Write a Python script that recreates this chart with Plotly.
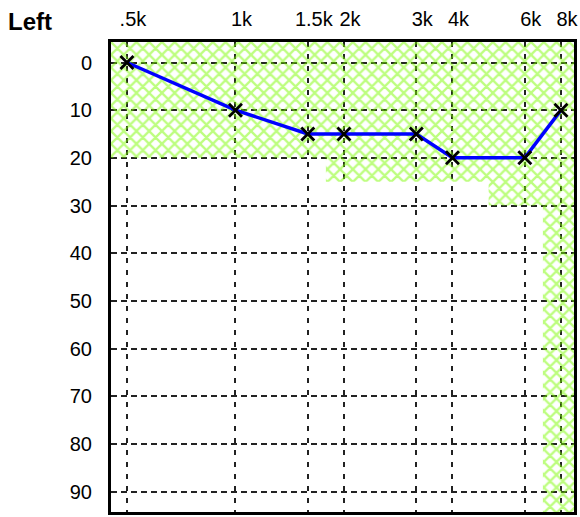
import math
import plotly.graph_objects as go

# ---- data ----
freqs_hz = [500, 1000, 1500, 2000, 3000, 4000, 6000, 8000]
freq_labels = [".5k", "1k", "1.5k", "2k", "3k", "4k", "6k", "8k"]
thresholds_db = [0, 10, 15, 15, 15, 20, 20, 10]
normal_limit_db = [20, 20, 20, 25, 25, 25, 30, 100]
db_ticks = [0, 10, 20, 30, 40, 50, 60, 70, 80, 90]


def aud_pos(f):
    """Audiogram x scale: octaves above 500 Hz; half-octave frequencies at 2/3."""
    r = math.log2(f / 500.0)
    k = math.floor(r + 1e-9)
    return k if r - k < 1e-6 else k + 2.0 / 3.0


pos = [aud_pos(f) for f in freqs_hz]

# step polygon of the shaded normal range
xs = [-1, 5, 5]
ys = [-10, -10, normal_limit_db[-1]]
for i in range(len(pos) - 1, 0, -1):
    mid = (pos[i] + pos[i - 1]) / 2
    xs += [mid, mid]
    ys += [normal_limit_db[i], normal_limit_db[i - 1]]
xs += [-1, -1]
ys += [normal_limit_db[0], -10]

fig = go.Figure()
fig.add_trace(go.Scatter(
    x=xs, y=ys, mode="lines", fill="toself",
    line=dict(width=0, color="rgba(0,0,0,0)"),
    fillcolor="rgba(0,0,0,0)",
    fillpattern=dict(shape="x", fgcolor="#7CFC00", bgcolor="rgba(0,0,0,0)",
                     size=9, solidity=0.45),
    hoverinfo="skip", showlegend=False,
))
fig.add_trace(go.Scatter(
    x=pos, y=thresholds_db, mode="lines+markers",
    line=dict(color="#0000FF", width=3.5),
    marker=dict(symbol="x-thin-open", size=13, color="black",
                line=dict(color="black", width=2.8)),
    showlegend=False,
))

font = "Liberation Sans, Arial, sans-serif"
fig.update_layout(
    width=580, height=517,
    margin=dict(l=111, r=6, t=42, b=5, autoexpand=False),
    paper_bgcolor="white", plot_bgcolor="white",
    font=dict(family=font, size=20, color="black"),
    title=dict(text="<b>Left</b>", x=8 / 580, xanchor="left", xref="container",
               y=1 - 22 / 517, yanchor="middle", yref="container",
               font=dict(family=font, size=24, color="black")),
)
fig.update_xaxes(
    side="top", range=[-0.147, 4.12], tickmode="array",
    tickvals=pos, ticktext=freq_labels, ticks="",
    showgrid=True, gridcolor="#222", gridwidth=2, griddash="5px,7px",
    showline=True, linecolor="black", linewidth=3, mirror=True,
    zeroline=False, ticklabelshift=6, ticklabelstandoff=5,
    tickfont=dict(size=20), automargin=False,
)
fig.update_yaxes(
    range=[94.3, -4.3], tickmode="array", tickvals=db_ticks, ticks="",
    showgrid=True, gridcolor="#222", gridwidth=2, griddash="6px,4px",
    showline=True, linecolor="black", linewidth=3, mirror=True,
    zeroline=False, ticklabelstandoff=12,
    tickfont=dict(size=20), automargin=False,
)
fig.write_html("out.html", config={"displayModeBar": False},
               post_script="document.body.style.margin='0';")
